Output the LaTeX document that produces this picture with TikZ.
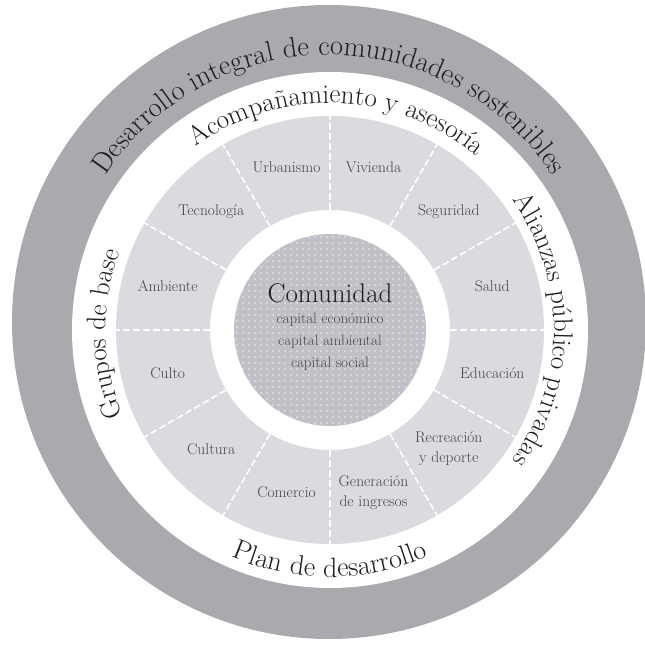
\documentclass[tikz,border=0pt]{standalone}
\usetikzlibrary{decorations.text}
\definecolor{ringgray}{RGB}{170,170,174}
\definecolor{sectgray}{RGB}{218,218,223}
\definecolor{centgray}{RGB}{192,193,198}
\definecolor{labelgray}{RGB}{70,70,72}
\definecolor{titledark}{RGB}{30,30,30}
\tikzset{
  curvedlabel/.style={decorate, decoration={text along path, text align=center,
      text color=titledark, text={#1}}},
  sectlabel/.style={text=labelgray, align=center, font=\fontsize{15.5}{20}\selectfont},
  boundary/.style={white, line width=1.6pt, dash pattern=on 7pt off 3pt}
}
\begin{document}
\begin{tikzpicture}[x=1pt,y=1pt]
\useasboundingbox (0,0) rectangle (645,645);
\fill[white] (0,0) rectangle (645,645);
\coordinate (C) at (330,315);
\coordinate (O) at (329,323);
% outer ring
\fill[ringgray] (O) circle[radius=317];
\fill[white] (C) circle[radius=258];
% sector ring
\fill[sectgray, even odd rule] (C) circle[radius=214] (C) circle[radius=120];
\foreach \a in {0,30,...,330}
  \draw[boundary] (C) ++(\a:120) -- ++(\a:94);
% centre disc
\fill[centgray] (C) circle[radius=96];
\begin{scope}
  \clip (C) circle[radius=96];
  \foreach \i in {-16,...,16}
    \foreach \j in {-16,...,16}
      \fill[white, opacity=0.75, shift={(C)}] (\i*6+3,\j*6+3) circle[radius=0.8];
\end{scope}
\node[text=titledark, font=\fontsize{27}{30}\selectfont] (comunidad) at (330,352) {Comunidad};
\node[text=labelgray, align=center, font=\fontsize{15}{22}\selectfont, anchor=north] (capitales) at (330,335)
  {capital económico\\capital ambiental\\capital social};
% sector labels
\node[sectlabel] (urbanismo)  at ([shift={(105:168)}]C) {Urbanismo};
\node[sectlabel] (vivienda)   at ([shift={(75:168)}]C) {Vivienda};
\node[sectlabel] (seguridad)  at ([shift={(45:168)}]C) {Seguridad};
\node[sectlabel] (salud)      at ([shift={(15:168)}]C) {Salud};
\node[sectlabel] (educacion)  at ([shift={(-15:168)}]C) {Educación};
\node[sectlabel] (recreacion) at ([shift={(-45:168)}]C) {Recreación\\y deporte};
\node[sectlabel] (generacion) at ([shift={(-75:168)}]C) {Generación\\de ingresos};
\node[sectlabel] (comercio)   at ([shift={(-105:168)}]C) {Comercio};
\node[sectlabel] (cultura)    at ([shift={(-135:168)}]C) {Cultura};
\node[sectlabel] (culto)      at ([shift={(-165:168)}]C) {Culto};
\node[sectlabel] (ambiente)   at ([shift={(165:168)}]C) {Ambiente};
\node[sectlabel] (tecnologia) at ([shift={(135:168)}]C) {Tecnología};
% curved labels
\path[curvedlabel={|\fontsize{28.5}{32}\selectfont|Desarrollo integral de comunidades sostenibles}]
  (O) ++(170:267) arc[start angle=170, end angle=10, radius=267];
\path[curvedlabel={|\fontsize{27}{30}\selectfont|Acompañamiento y asesoría}]
  (C) ++(140:227) arc[start angle=140, end angle=36, radius=227];
\path[curvedlabel={|\fontsize{27}{30}\selectfont|Alianzas público privadas}]
  (C) ++(55:224) arc[start angle=55, end angle=-55, radius=224];
\path[curvedlabel={|\fontsize{27}{30}\selectfont|Grupos de base}]
  (C) ++(225:224) arc[start angle=225, end angle=137, radius=224];
\path[curvedlabel={|\fontsize{28}{30}\selectfont|Plan de desarrollo}]
  (C) ++(225:247) arc[start angle=225, end angle=315, radius=247];
\end{tikzpicture}
\end{document}
